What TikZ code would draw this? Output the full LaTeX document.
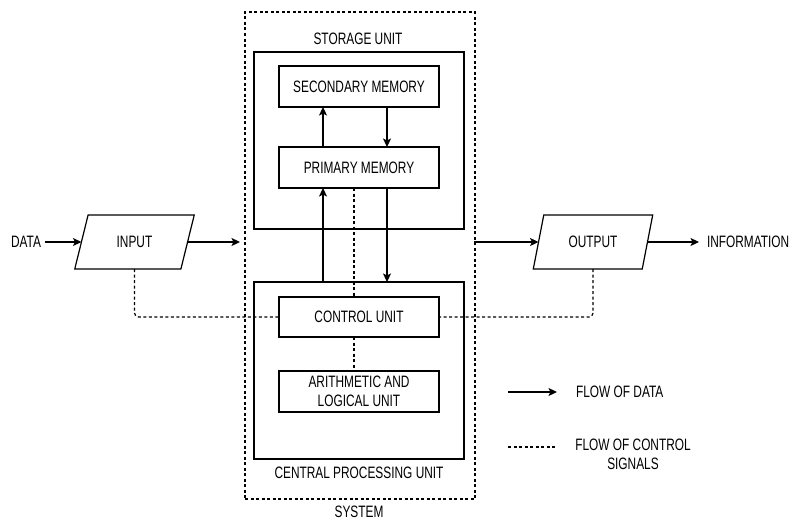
\documentclass[tikz,border=0pt]{standalone}
\usepackage{fontspec}
\setmainfont{Liberation Sans}[FakeStretch=0.72]
\usetikzlibrary{arrows.meta,shapes.geometric}
\begin{document}
\begin{tikzpicture}[x=1pt,y=-1pt,
  every node/.style={font=\fontsize{16.5}{19}\selectfont, inner sep=0pt, outer sep=0pt},
  line/.style={line width=1.2pt},
  flow/.style={line, -{Stealth[length=8.5pt,width=8pt,inset=2pt]}},
  ctrl/.style={line, dash pattern=on 3pt off 2.5pt},
  box/.style={draw, line width=1.2pt, minimum width=160pt, minimum height=41pt, align=center},
  big/.style={draw, line width=1.2pt, minimum width=210pt, minimum height=177pt},
  para/.style={draw, line width=1.2pt, trapezium, trapezium left angle=66, trapezium right angle=114,
    trapezium stretches=true, minimum width=120pt, minimum height=54pt},
  lbl/.style={inner sep=3pt}
]
\useasboundingbox (0,0) rectangle (789,522);

% system
\node[draw, dash pattern=on 3pt off 2.5pt, line width=1.2pt, minimum width=230pt, minimum height=487pt] (sys) at (360,255.5) {};
\node (syslbl) at (359,512) {SYSTEM};

% storage unit
\node[big] (stor) at (359,140.5) {};
\node (storlbl) at (358,39) {STORAGE UNIT};
\node[box] (sec) at (359,86.5) {SECONDARY MEMORY};
\node[box] (prim) at (359,167.5) {PRIMARY MEMORY};

% cpu
\node[big] (cpu) at (359,370.5) {};
\node (cpulbl) at (359,473) {CENTRAL PROCESSING UNIT};
\node[box, minimum height=40pt] (cu) at (359,317) {CONTROL UNIT};
\node[box] (alu) at (359,391.5) {ARITHMETIC AND\\LOGICAL UNIT};

% input / output
\node[para] (in) at (134.5,242) {INPUT};
\node[para] (out) at (593,242) {OUTPUT};
\node[lbl, inner xsep=4pt] (data) at (26,242) {DATA};
\node[lbl, anchor=west, inner xsep=8pt] (info) at (699,242) {INFORMATION};
\coordinate (sysin) at (240,242);
\coordinate (sysout) at (474,242);

% data flows
\draw[flow] (data) -- (in.left side);
\draw[flow] (in.right side) -- (sysin);
\draw[flow] (sysout) -- (out.left side);
\draw[flow] (out.right side) -- (info.west);
\draw[flow] ([xshift=-36pt]prim.north) -- ([xshift=-36pt]sec.south);
\draw[flow] ([xshift=28pt]sec.south) -- ([xshift=28pt]prim.north);
\draw[flow] ([xshift=-36pt]cpu.north) -- ([xshift=-36pt]prim.south);
\draw[flow] ([xshift=28pt]prim.south) -- ([xshift=28pt]cpu.north);

% control flows
\draw[ctrl] ([xshift=-5pt]prim.south) -- ([xshift=-5pt]cu.north);
\draw[ctrl] ([xshift=-5pt]cu.south) -- ([xshift=-5pt]alu.north);
\draw[ctrl, rounded corners=4pt] (in.south) |- (cu.west);
\draw[ctrl, rounded corners=4pt] (out.south) |- (cu.east);

% legend
\coordinate (l1a) at (508,392);
\coordinate (l1b) at (557,392);
\coordinate (l2a) at (508,447);
\coordinate (l2b) at (557,447);
\draw[flow] (l1a) -- (l1b);
\draw[ctrl] (l2a) -- (l2b);
\node[anchor=west] (leg1) at (576,392) {FLOW OF DATA};
\node[align=center] (leg2) at (633,454) {FLOW OF CONTROL\\SIGNALS};
\end{tikzpicture}
\end{document}
